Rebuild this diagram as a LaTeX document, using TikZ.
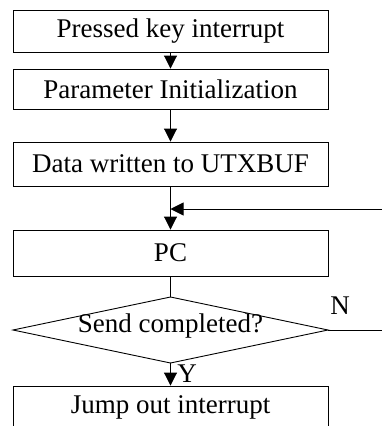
\documentclass[tikz,border=0pt]{standalone}
\usepackage{fontspec}
\setmainfont{Liberation Serif}
\usetikzlibrary{arrows.meta}
\begin{document}
\begin{tikzpicture}[x=1pt,y=-1pt,
  box/.style={draw,line width=0.9pt,minimum width=315pt,inner sep=0pt,font=\fontsize{27}{30}\selectfont},
  arr/.style={line width=0.9pt,-{Triangle[length=13pt,width=13pt]}},
  ln/.style={line width=0.9pt},
  lbl/.style={font=\fontsize{27}{30}\selectfont,inner sep=0pt}]
\useasboundingbox (0,0) rectangle (382,426);
\node[box,minimum height=42pt] (b1) at (170.5,31) {Pressed key interrupt};
\node[box,minimum height=40pt] (b2) at (170.5,89) {Parameter Initialization};
\node[box,minimum height=44pt] (b3) at (170.5,164) {Data written to UTXBUF};
\node[box,minimum height=46pt] (pc) at (170.5,253) {PC};
\coordinate (dn) at (170.5,297);
\coordinate (ds) at (170.5,363);
\coordinate (dw) at (13,330);
\coordinate (de) at (328,330);
\draw[ln] (dn) -- (de) -- (ds) -- (dw) -- cycle;
\node[lbl] (dt) at (170.5,326) {Send completed?};
\node[box,minimum height=42pt] (b5) at (170.5,407) {Jump out interrupt};
\coordinate (loopR) at (382,209);
\coordinate (j) at (b3.south |- loopR);
\coordinate (nR) at (382,330);
\draw[arr] (b1.south) -- (b2.north);
\draw[arr] (b2.south) -- (b3.north);
\draw[arr] (b3.south) -- (pc.north);
\draw[arr] (loopR) -- (j);
\draw[ln] (pc.south) -- (dn);
\draw[ln] (de) -- (nR);
\draw[arr] (ds) -- (b5.north);
\node[lbl] (nl) at (340,306) {N};
\node[lbl] (yl) at (187,374) {Y};
\end{tikzpicture}
\end{document}
